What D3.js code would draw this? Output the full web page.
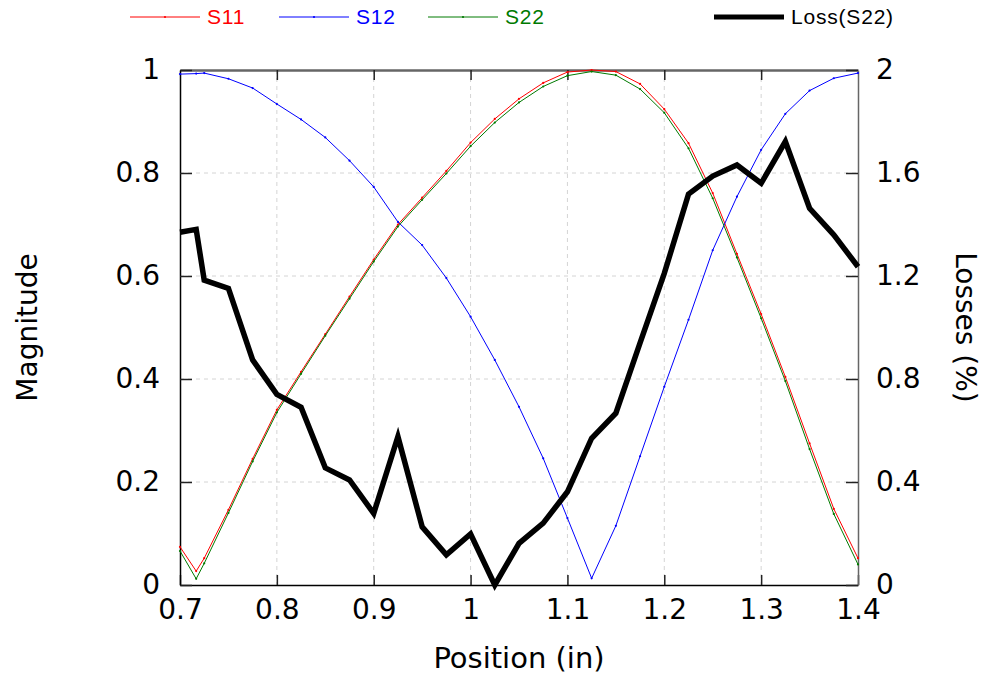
<!DOCTYPE html>
<html>
<head>
<meta charset="utf-8">
<script src="https://cdn.jsdelivr.net/npm/d3@7"></script>
<style>
body { margin: 0; background: #fff; }
svg { display: block; }
</style>
</head>
<body>
<div id="chart"></div>
<script>
var chart_width = 984;
var chart_height = 677;

// Data
var positions = [0.7, 0.7167, 0.725, 0.75, 0.775, 0.8, 0.825, 0.85, 0.875, 0.9, 0.925, 0.95, 0.975, 1.0, 1.025,
                 1.05, 1.075, 1.1, 1.125, 1.15, 1.175, 1.2, 1.225, 1.25, 1.275, 1.3, 1.325, 1.35, 1.375, 1.4];
var s11 = [0.074, 0.027, 0.052, 0.146, 0.245, 0.34, 0.414, 0.487, 0.56, 0.632, 0.70, 0.752, 0.804, 0.859, 0.905,
           0.944, 0.975, 0.996, 1.0, 0.997, 0.973, 0.924, 0.858, 0.761, 0.643, 0.526, 0.404, 0.275, 0.148, 0.052];
var s12 = [0.992, 0.993, 0.994, 0.983, 0.965, 0.934, 0.904, 0.869, 0.824, 0.773, 0.705, 0.66, 0.596, 0.521, 0.437,
           0.346, 0.246, 0.13, 0.013, 0.115, 0.25, 0.385, 0.515, 0.65, 0.754, 0.845, 0.915, 0.96, 0.984, 0.994];
var s22 = [0.066, 0.012, 0.042, 0.14, 0.24, 0.335, 0.41, 0.484, 0.556, 0.628, 0.696, 0.748, 0.799, 0.852, 0.898,
           0.937, 0.968, 0.989, 0.997, 0.99, 0.963, 0.917, 0.848, 0.751, 0.636, 0.518, 0.396, 0.264, 0.138, 0.04];
var loss = [1.37, 1.381, 1.184, 1.152, 0.874, 0.74, 0.69, 0.455, 0.408, 0.278, 0.576, 0.226, 0.117, 0.198, 0.0,
            0.162, 0.24, 0.362, 0.57, 0.667, 0.94, 1.21, 1.518, 1.588, 1.631, 1.56, 1.722, 1.463, 1.36, 1.236];

var x_ticks = [0.7, 0.8, 0.9, 1.0, 1.1, 1.2, 1.3, 1.4];
var mag_ticks = [0, 0.2, 0.4, 0.6, 0.8, 1];
var loss_ticks = [0, 0.4, 0.8, 1.2, 1.6, 2];

var series = [
	{name: 'S11', values: s11, color: '#ff0000'},
	{name: 'S12', values: s12, color: '#0000ff'},
	{name: 'S22', values: s22, color: '#007a00'}
];

var margin = {left: 180, right: 126, top: 70, bottom: 92};
var plot_w = chart_width - margin.left - margin.right;
var plot_h = chart_height - margin.top - margin.bottom;

var font = '"DejaVu Sans", sans-serif';

var x = d3.scaleLinear().domain([0.7, 1.4]).range([0, plot_w]);
var y = d3.scaleLinear().domain([0, 1]).range([plot_h, 0]);
var y2 = d3.scaleLinear().domain([0, 2]).range([plot_h, 0]);

var svg = d3.select('#chart')
			.append('svg')
			.attr('width', chart_width)
			.attr('height', chart_height);

var g = svg.append('g')
			.attr('transform', 'translate(' + margin.left + ',' + margin.top + ')');

// Grid
g.selectAll('.vgrid')
	.data(x_ticks.slice(1, -1))
	.enter()
	.append('line')
	.attr('x1', function(d){ return x(d); })
	.attr('x2', function(d){ return x(d); })
	.attr('y1', 0)
	.attr('y2', plot_h)
	.attr('stroke', '#d4d4d4')
	.attr('stroke-dasharray', '4,4');

g.selectAll('.hgrid')
	.data(mag_ticks.slice(1, -1))
	.enter()
	.append('line')
	.attr('x1', 0)
	.attr('x2', plot_w)
	.attr('y1', function(d){ return y(d); })
	.attr('y2', function(d){ return y(d); })
	.attr('stroke', '#d4d4d4')
	.attr('stroke-dasharray', '4,4');

// Axes
function style_axis(sel, color, width){
	sel.select('.domain').attr('stroke', color).attr('stroke-width', width);
	sel.selectAll('.tick line').attr('stroke', '#222').attr('stroke-width', 1.5);
	sel.selectAll('.tick text')
		.attr('fill', '#000')
		.style('font-family', font)
		.style('font-size', '28px');
}

g.append('g')
	.attr('transform', 'translate(0,' + plot_h + ')')
	.call(d3.axisBottom(x).tickValues(x_ticks).tickSize(-10).tickSizeOuter(0).tickPadding(14)
		.tickFormat(function(d){ return d3.format('~g')(d); }))
	.call(style_axis, '#000', 1.5);

g.append('g')
	.call(d3.axisTop(x).tickValues(x_ticks.slice(1, -1)).tickSize(-10).tickSizeOuter(0).tickFormat(''))
	.call(style_axis, '#666', 2.5);

g.append('g')
	.call(d3.axisLeft(y).tickValues(mag_ticks).tickSize(-12).tickSizeOuter(0).tickPadding(20)
		.tickFormat(function(d){ return d3.format('~g')(d); }))
	.call(style_axis, '#000', 1.5);

g.append('g')
	.attr('transform', 'translate(' + plot_w + ',0)')
	.call(d3.axisRight(y2).tickValues(loss_ticks).tickSize(-12).tickSizeOuter(0).tickPadding(18)
		.tickFormat(function(d){ return d3.format('~g')(d); }))
	.call(style_axis, '#666', 1.5);

// S-parameter lines
var mag_line = d3.line()
	.x(function(d){ return x(d[0]); })
	.y(function(d){ return y(d[1]); });

series.forEach(function(s){
	var pts = positions.map(function(p, i){ return [p, s.values[i]]; });
	g.append('path')
		.datum(pts)
		.attr('d', mag_line)
		.attr('fill', 'none')
		.attr('stroke', s.color)
		.attr('stroke-width', 1);
	g.selectAll('.dot-' + s.name)
		.data(pts)
		.enter()
		.append('circle')
		.attr('cx', function(d){ return x(d[0]); })
		.attr('cy', function(d){ return y(d[1]); })
		.attr('r', 1.1)
		.attr('fill', s.color);
});

// Loss line on the right axis
var loss_line = d3.line()
	.x(function(d, i){ return x(positions[i]); })
	.y(function(d){ return y2(d); });

g.append('path')
	.datum(loss)
	.attr('d', loss_line)
	.attr('fill', 'none')
	.attr('stroke', '#000')
	.attr('stroke-width', 5.5)
	.attr('stroke-linejoin', 'miter');

// Axis titles
svg.append('text')
	.attr('transform', 'translate(37,' + (margin.top + plot_h / 2) + ') rotate(-90)')
	.attr('text-anchor', 'middle')
	.style('font-family', font)
	.style('font-size', '28px')
	.text('Magnitude');

svg.append('text')
	.attr('transform', 'translate(956,' + (margin.top + plot_h / 2) + ') rotate(90)')
	.attr('text-anchor', 'middle')
	.style('font-family', font)
	.style('font-size', '28px')
	.text('Losses (%)');

svg.append('text')
	.attr('x', margin.left + plot_w / 2)
	.attr('y', 668)
	.attr('text-anchor', 'middle')
	.style('font-family', font)
	.style('font-size', '29px')
	.text('Position (in)');

// Legend
var legend = [
	{name: 'S11', color: '#ff0000', x: 130, w: 1},
	{name: 'S12', color: '#0000ff', x: 279, w: 1},
	{name: 'S22', color: '#007a00', x: 428, w: 1},
	{name: 'Loss(S22)', color: '#000', x: 714, w: 5}
];

legend.forEach(function(l){
	svg.append('line')
		.attr('x1', l.x)
		.attr('x2', l.x + 70)
		.attr('y1', 17)
		.attr('y2', 17)
		.attr('stroke', l.color)
		.attr('stroke-width', l.w);
	if (l.w === 1) {
		svg.append('circle')
			.attr('cx', l.x + 35)
			.attr('cy', 17)
			.attr('r', 1.1)
			.attr('fill', l.color);
	}
	svg.append('text')
		.attr('x', l.x + 77)
		.attr('y', 24)
		.attr('fill', l.color)
		.style('font-family', '"Liberation Sans", Arial, sans-serif')
		.style('font-size', '21px')
		.style('letter-spacing', '0.8px')
		.text(l.name);
});
</script>
</body>
</html>
